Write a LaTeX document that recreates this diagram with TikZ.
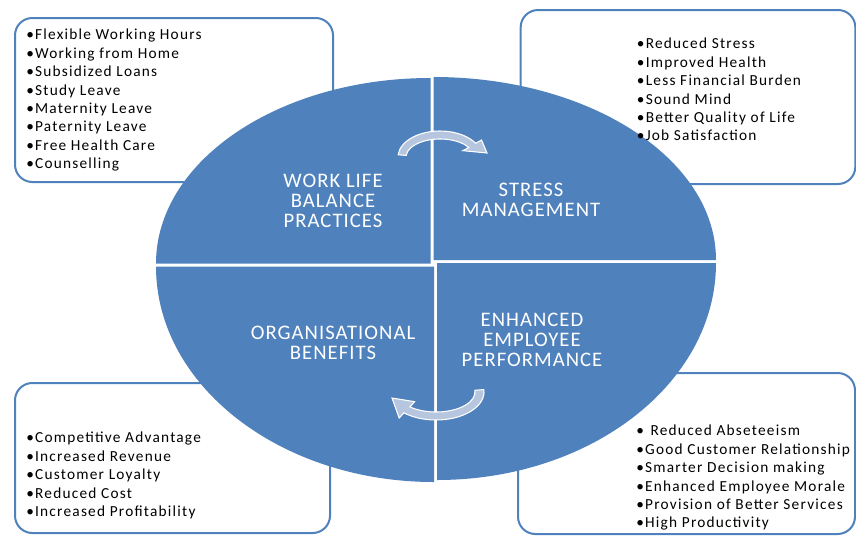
\documentclass[tikz,border=0pt]{standalone}
\usepackage{fontspec}
\setmainfont{Carlito}
\newfontfamily\listfont{Carlito}[LetterSpace=8]
\newfontfamily\quadfont{Carlito}[LetterSpace=5]
\usetikzlibrary{positioning}
\definecolor{quadblue}{HTML}{4F81BD}
\definecolor{boxblue}{HTML}{4F81BD}
\definecolor{cyclefill}{HTML}{B7C6DF}
\tikzset{
  listbox/.style={draw=boxblue, line width=1.5pt, rounded corners=13pt, fill=white, inner sep=0pt},
  listtext/.style={font=\listfont\fontsize{11.5}{13.8}\selectfont, align=left, inner sep=0pt, anchor=north west},
  quad/.style={fill=quadblue},
  quadlabel/.style={font=\quadfont\fontsize{15.5}{15.2}\selectfont, text=white, align=center, inner sep=0pt},
  cyclearrow/.style={fill=cyclefill, draw=white, line width=0.8pt, line join=miter}
}
\begin{document}
\begin{tikzpicture}[x=0.75pt,y=-0.75pt,line join=round,line cap=round]
  \useasboundingbox (0,0) rectangle (856,536);
  % corner boxes
  \node[listbox, minimum width=238.5pt, minimum height=123pt] (wlbbox) at (174,100) {};
  \node[listbox, minimum width=251pt, minimum height=130.5pt] (smbox) at (688,97) {};
  \node[listbox, minimum width=236.25pt, minimum height=112.5pt] (obbox) at (172.5,458) {};
  \node[listbox, minimum width=252.75pt, minimum height=120.75pt] (eepbox) at (686.5,453.5) {};
  % four quarters
  \fill[quad] (430.5,263.5) -- (156,263.5) arc[start angle=180, end angle=270, x radius=274.5, y radius=185.5] -- cycle;
  \fill[quad] (433.5,260) -- (433.5,77) arc[start angle=270, end angle=360, x radius=282.5, y radius=183] -- cycle;
  \fill[quad] (434,266.5) -- (434,482) arc[start angle=90, end angle=180, x radius=278, y radius=215.5] -- cycle;
  \fill[quad] (437,263) -- (716,263) arc[start angle=0, end angle=90, x radius=279, y radius=217] -- cycle;
  % lists
  \node[listtext] (wlblist) at ([shift={(12,12)}]wlbbox.north west)
    {•Flexible Working Hours\\•Working from Home\\•Subsidized Loans\\•Study Leave\\•Maternity Leave\\•Paternity Leave\\•Free Health Care\\•Counselling};
  \node[listtext] (smlist) at ([shift={(117,29)}]smbox.north west)
    {•Reduced Stress\\•Improved Health\\•Less Financial Burden\\•Sound Mind\\•Better Quality of Life\\•Job Satisfaction};
  \node[listtext] (oblist) at ([shift={(12,50)}]obbox.north west)
    {•Competitive Advantage\\•Increased Revenue\\•Customer Loyalty\\•Reduced Cost\\•Increased Profitability};
  \node[listtext] (eeplist) at ([shift={(119,53)}]eepbox.north west)
    {•\hspace{5pt}Reduced Abseteeism\\•Good Customer Relationship\\•Smarter Decision making\\•Enhanced Employee Morale\\•Provision of Better Services\\•High Productivity};
  % quarter labels
  \node[quadlabel] (wlb) at (333,201) {WORK LIFE\\BALANCE\\PRACTICES};
  \node[quadlabel] (sm) at (531,200) {STRESS\\MANAGEMENT};
  \node[quadlabel] (ob) at (333,343) {ORGANISATIONAL\\BENEFITS};
  \node[quadlabel] (eep) at (532,340) {ENHANCED\\EMPLOYEE\\PERFORMANCE};
  % cycle arrows
  \begin{scope}[shift={(440,157)}, yscale=-1]
    \filldraw[cyclearrow] (175:42 and 26) arc[start angle=175, end angle=32, x radius=42, y radius=26]
      -- (32:49 and 32) -- (47,4) -- (32:27 and 12) -- (32:34 and 18)
      arc[start angle=32, end angle=175, x radius=34, y radius=18] -- cycle;
  \end{scope}
  \begin{scope}[shift={(436,392)}, yscale=-1]
    \filldraw[cyclearrow] (5:48 and 28) arc[start angle=5, end angle=-132, x radius=48, y radius=28]
      -- (-132:55 and 35) -- (-44,-6) -- (-132:32 and 13) -- (-132:39 and 20)
      arc[start angle=-132, end angle=5, x radius=39, y radius=20] -- cycle;
  \end{scope}
\end{tikzpicture}
\end{document}
